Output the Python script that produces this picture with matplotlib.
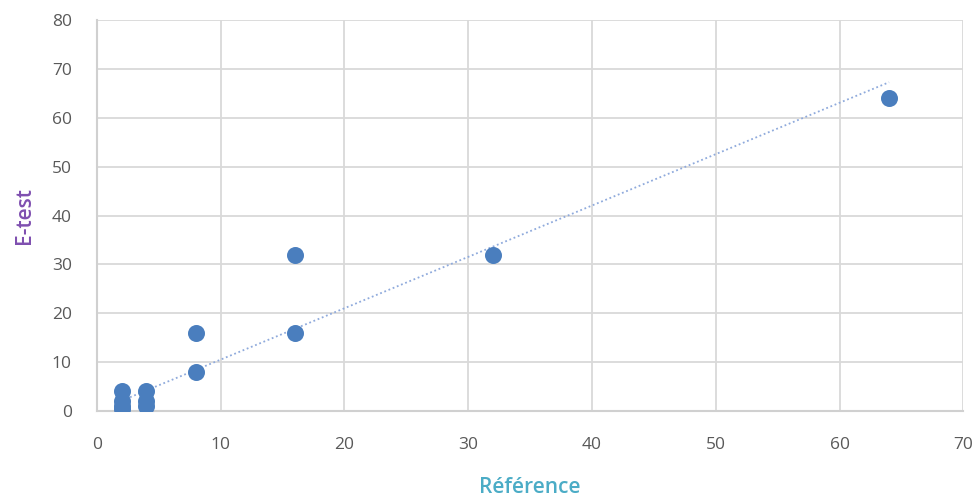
#scatter of E-test vs reference with linear trendline
import numpy as np
import matplotlib.pyplot as plt

plt.rcParams['font.family'] = ['Open Sans', 'DejaVu Sans']

reference = [2, 2, 2, 2, 4, 4, 4, 8, 8, 16, 16, 32, 64]
etest = [0.5, 1, 2, 4, 1, 2, 4, 8, 16, 16, 32, 32, 64]
xticks = [0, 10, 20, 30, 40, 50, 60, 70]
yticks = [0, 10, 20, 30, 40, 50, 60, 70, 80]

fig = plt.figure(figsize=(9.79, 5.03), dpi=100)
ax = fig.add_axes([0.099, 0.183, 0.885, 0.777])

ax.scatter(reference, etest, s=150, color='#4A7EBE', zorder=3, linewidths=0)

# trendline through origin (least squares)
rx = np.array(reference, dtype=float)
ry = np.array(etest, dtype=float)
a = (rx * ry).sum() / (rx * rx).sum()
xs = np.array([rx.min(), rx.max()])
ax.plot(xs, a * xs, color='#8FAADC', linestyle=(0, (1, 1.5)), linewidth=1.3, zorder=2)

ax.set_xlim(0, 70)
ax.set_ylim(0, 80)
ax.set_xticks(xticks)
ax.set_yticks(yticks)
ax.grid(True, color='#D9D9D9', linewidth=1.3)
ax.set_axisbelow(True)
ax.tick_params(length=0, labelsize=12.5, labelcolor='#595959')
ax.tick_params(axis='x', pad=19)
ax.tick_params(axis='y', pad=18)
for s in ['top', 'right']:
    ax.spines[s].set_visible(False)
for s in ['left', 'bottom']:
    ax.spines[s].set_color('#D0D0D0')
    ax.spines[s].set_linewidth(1.5)

ax.set_xlabel('Référence', fontsize=15, color='#4BACC6', fontweight='semibold', labelpad=17)
ax.set_ylabel('E-test', fontsize=15, color='#7F4FB0', fontweight='semibold', labelpad=12)

plt.savefig('out.png')
